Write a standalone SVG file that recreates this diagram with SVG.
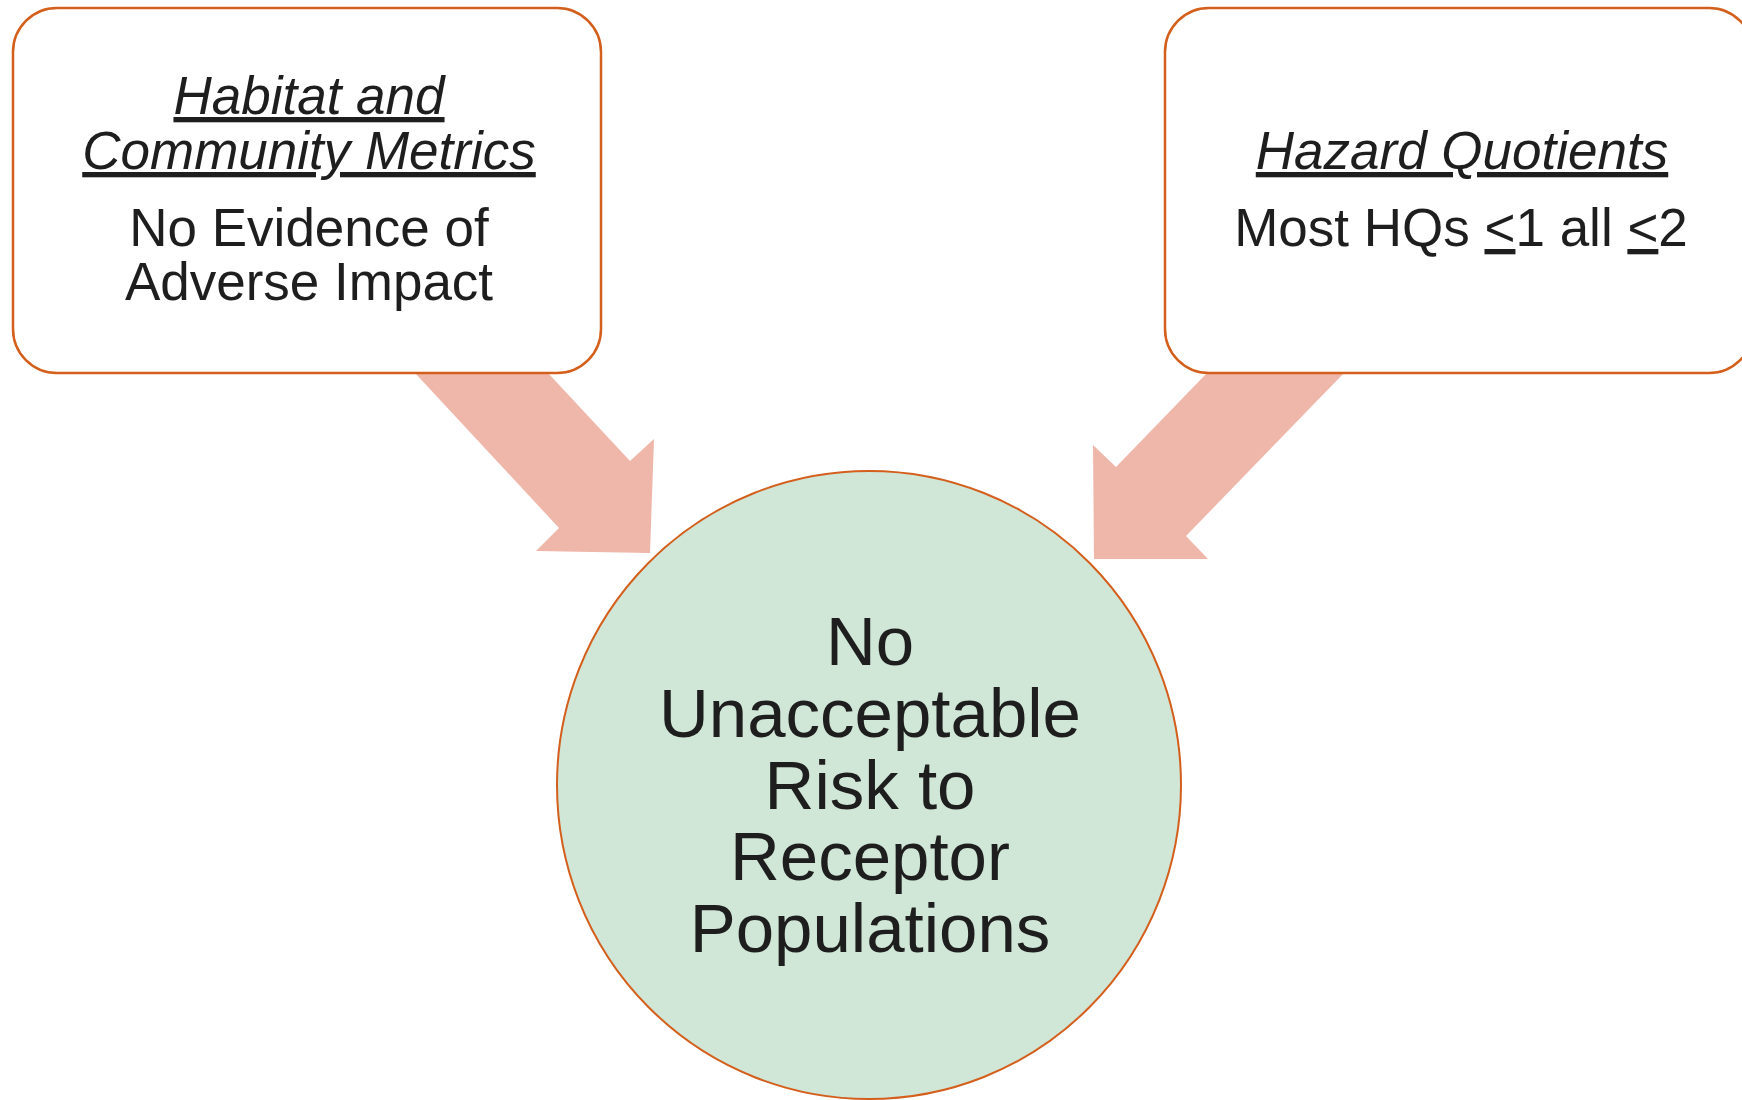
<svg xmlns="http://www.w3.org/2000/svg" width="1742" height="1100" viewBox="0 0 1742 1100">
<style>
.box{fill:#fff;stroke:#D45F1C;stroke-width:2.5}
.arrow{fill:#EFB6AA;stroke:none}
.circ{fill:#D0E6D6;stroke:#D45F1C;stroke-width:2}
text{font-family:"Liberation Sans",Arial,sans-serif;fill:#1E1E1E;text-anchor:middle}
.t{font-size:53px;font-style:italic;text-decoration:underline}
.b{font-size:53px}
.c{font-size:69px}
.u{text-decoration:underline}
</style>
<rect width="1742" height="1100" fill="#fff"/>
<g id="connectors">
<polygon class="arrow" points="415,373 548,373 630,461 654,439 650,553 536,551 559,528"/>
<polygon class="arrow" points="1207,373 1344,373 1186,536 1208,559 1094,559 1093,445 1116,467"/>
</g>
<g id="node-habitat">
<rect class="box" x="13" y="8" width="588" height="365" rx="44"/>
<text class="t" x="309" y="114">Habitat and</text>
<text class="t" x="309" y="169">Community Metrics</text>
<text class="b" x="309" y="246">No Evidence of</text>
<text class="b" x="309" y="300">Adverse Impact</text>
</g>
<g id="node-hq">
<rect class="box" x="1165" y="8" width="588" height="365" rx="44"/>
<text class="t" x="1462" y="169">Hazard Quotients</text>
<text class="b" x="1461" y="246">Most HQs <tspan class="u">&lt;</tspan>1 all <tspan class="u">&lt;</tspan>2</text>
</g>
<g id="node-result">
<ellipse class="circ" cx="869" cy="785" rx="312" ry="314"/>
<text class="c" x="870" y="665">No</text>
<text class="c" x="870" y="737">Unacceptable</text>
<text class="c" x="870" y="809">Risk to</text>
<text class="c" x="870" y="880">Receptor</text>
<text class="c" x="870" y="952">Populations</text>
</g>
</svg>
